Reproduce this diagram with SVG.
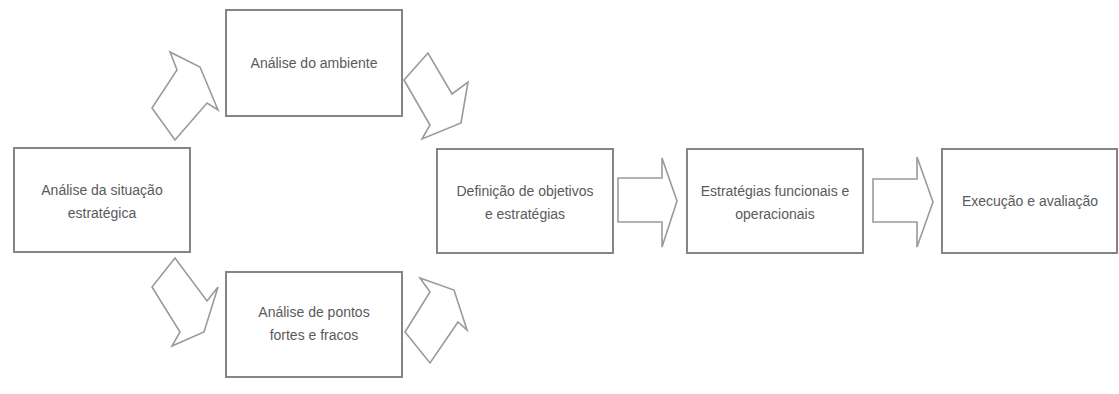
<svg xmlns="http://www.w3.org/2000/svg" width="1119" height="394" viewBox="0 0 1119 394">
  <style>
    .box { fill: #ffffff; stroke: #858585; stroke-width: 2; }
    .arrow { fill: #ffffff; stroke: #9a9a9a; stroke-width: 1.6; stroke-linejoin: miter; }
    .label { font-family: "Liberation Sans", Arial, sans-serif; font-size: 14px; fill: #5a5a5a; text-anchor: middle; }
  </style>
  <rect width="1119" height="394" fill="#ffffff"/>

  <!-- block arrows between the steps -->
  <g id="connectors">
    <polygon class="arrow" points="152,108 175,140 207,103 218,110 200,67 170,52 177,70"/>
    <polygon class="arrow" points="428,53 404,80 430,125 422,139 461,123 468,82 452,94"/>
    <polygon class="arrow" points="175,258 152,287 180,332 172,346 204,332 218,287 207,301"/>
    <polygon class="arrow" points="420,278 454,290 467,330 458,322 430,363 405,332 430,292"/>
    <polygon class="arrow" points="618,178 662,178 662,158 677,201 662,247 662,222 618,222"/>
    <polygon class="arrow" points="873,179 917,179 917,157 933,202 917,247 917,222 873,222"/>
  </g>

  <g id="situacao">
    <rect class="box" x="14" y="148" width="176" height="104"/>
    <text class="label" x="102" y="195">Análise da situação</text>
    <text class="label" x="102" y="218">estratégica</text>
  </g>

  <g id="ambiente">
    <rect class="box" x="226" y="10" width="176" height="106"/>
    <text class="label" x="314" y="68">Análise do ambiente</text>
  </g>

  <g id="pontos">
    <rect class="box" x="226" y="272" width="176" height="105"/>
    <text class="label" x="314" y="317">Análise de pontos</text>
    <text class="label" x="314" y="340">fortes e fracos</text>
  </g>

  <g id="objetivos">
    <rect class="box" x="437" y="149" width="176" height="104"/>
    <text class="label" x="525" y="196">Definição de objetivos</text>
    <text class="label" x="525" y="219">e estratégias</text>
  </g>

  <g id="funcionais">
    <rect class="box" x="687" y="149" width="176" height="104"/>
    <text class="label" x="775" y="196">Estratégias funcionais e</text>
    <text class="label" x="775" y="219">operacionais</text>
  </g>

  <g id="execucao">
    <rect class="box" x="942" y="149" width="175" height="104"/>
    <text class="label" x="1030" y="206">Execução e avaliação</text>
  </g>
</svg>
